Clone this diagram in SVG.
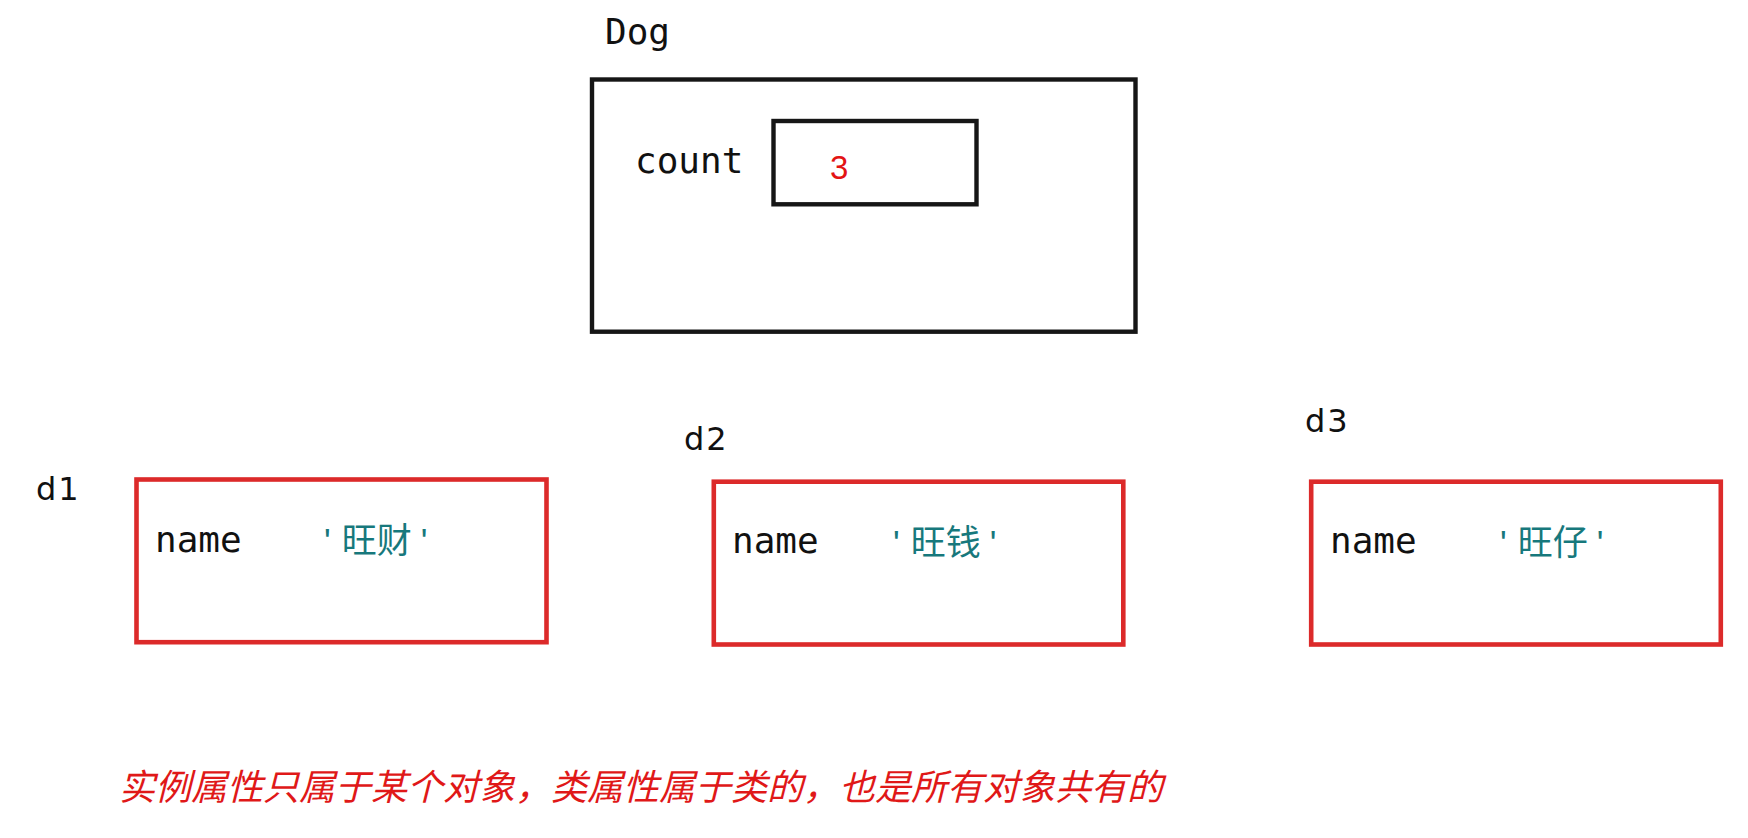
<svg xmlns="http://www.w3.org/2000/svg" width="1748" height="838" viewBox="0 0 1748 838">
<style>
.mono{font-family:"DejaVu Sans Mono","Liberation Mono",monospace;font-size:36px;fill:#111}
.lbl{font-family:"DejaVu Sans","Liberation Sans",sans-serif;font-size:32px;fill:#111;letter-spacing:2px}
.blk{fill:#fff;stroke:#161616;stroke-width:4.4}
.obj{fill:#fff;stroke:#dc2a2a;stroke-width:4.6}
.val{font-family:"Liberation Sans","Noto Sans CJK SC",sans-serif;font-size:35px;fill:#17787c}
.num{font-family:"Liberation Sans",sans-serif;font-size:33px;fill:#e31414}
.note{font-family:"Noto Sans CJK SC",sans-serif;font-size:36px;font-style:italic;fill:#e01818}
</style>
<rect width="1748" height="838" fill="#fff"/>
<g id="connectors"></g>
<g id="dog">
<text class="mono" x="605" y="44">Dog</text>
<rect class="blk" x="592" y="79.5" width="543.5" height="252.2"/>
<text class="mono" x="635" y="173">count</text>
<rect class="blk" x="773.5" y="121" width="203" height="83.3"/>
<text class="num" x="830" y="179">3</text>
</g>
<g id="d1">
<text class="lbl" x="36" y="500">d1</text>
<rect class="obj" x="136.5" y="479.5" width="410" height="162.7"/>
<text class="mono" x="155" y="552">name</text>
<text class="val" x="324" y="553">'<tspan dx="11">旺财</tspan><tspan dx="9">'</tspan></text>
</g>
<g id="d2">
<text class="lbl" x="684" y="450">d2</text>
<rect class="obj" x="713.8" y="481.7" width="409.5" height="162.8"/>
<text class="mono" x="732" y="553">name</text>
<text class="val" x="893" y="555">'<tspan dx="11">旺钱</tspan><tspan dx="9">'</tspan></text>
</g>
<g id="d3">
<text class="lbl" x="1305" y="432">d3</text>
<rect class="obj" x="1311.2" y="481.7" width="409.6" height="162.8"/>
<text class="mono" x="1330" y="553">name</text>
<text class="val" x="1500" y="555">'<tspan dx="11">旺仔</tspan><tspan dx="9">'</tspan></text>
</g>
<g id="note">
<text class="note" x="119" y="800">实例属性只属于某个对象，类属性属于类的，也是所有对象共有的</text>
</g>
</svg>
